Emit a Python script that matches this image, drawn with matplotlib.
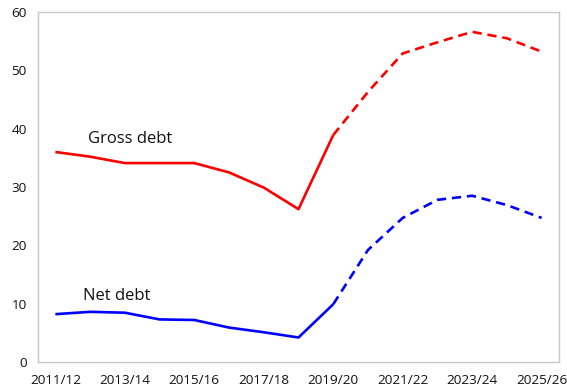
import numpy as np
import matplotlib.pyplot as plt

plt.rcParams['font.family'] = ['Open Sans', 'DejaVu Sans']

# Dados
years = ['2011/12', '2012/13', '2013/14', '2014/15', '2015/16', '2016/17', '2017/18',
         '2018/19', '2019/20', '2020/21', '2021/22', '2022/23', '2023/24', '2024/25', '2025/26']
gross_debt = [36.0, 35.2, 34.1, 34.1, 34.1, 32.5, 29.9, 26.2, 38.9, 46.3, 52.9, 54.8, 56.6, 55.5, 53.2]
net_debt = [8.2, 8.6, 8.45, 7.3, 7.2, 5.9, 5.1, 4.2, 9.9, 19.2, 24.7, 27.8, 28.5, 26.9, 24.7]
split = 8  # a partir de 2019/20 é projeção (tracejado)

x = np.arange(len(years))

fig = plt.figure(figsize=(5.67, 3.9), dpi=100)
ax = fig.add_axes([38 / 567, 28 / 390, 521 / 567, 350 / 390])

for serie, color in [(gross_debt, '#ff0000'), (net_debt, '#0000ff')]:
    ax.plot(x[:split + 1], serie[:split + 1], color=color, lw=1.9, solid_capstyle='butt')
    ax.plot(x[split:], serie[split:], color=color, lw=1.9, ls=(0, (3.5, 2.2)))

ax.text(0.93, 37.6, 'Gross debt', fontsize=12, color='#111111')
ax.text(0.8, 10.6, 'Net debt', fontsize=12, color='#111111')

ax.set_xlim(-0.5, len(years) - 0.5)
ax.set_ylim(0, 60)
ax.set_yticks(range(0, 61, 10))
ax.set_xticks(x[::2])
ax.set_xticklabels(years[::2])
ax.tick_params(length=0, labelsize=9.7, colors='#111111', pad=9)
ax.tick_params(axis='y', pad=8)
for s in ax.spines.values():
    s.set_color('#c8c8c8')
    s.set_linewidth(1)

plt.savefig('out.png', dpi=100)
